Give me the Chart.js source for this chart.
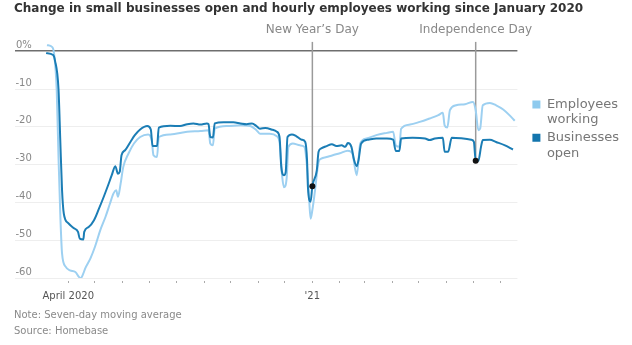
<!DOCTYPE html>
<html>
<head>
<meta charset="utf-8">
<script src="https://cdn.jsdelivr.net/npm/chart.js@4.4.1/dist/chart.umd.min.js"></script>
<style>
  html, body { margin: 0; padding: 0; background: #fff; }
  #wrap { width: 632px; height: 345px; }
</style>
</head>
<body>
<div id="wrap"><canvas id="chart"></canvas></div>
<script>
// Days are counted from April 1 2020 (day 0); values are % change since January 2020
const bizDays = [-25, -17, -15, -11, -9, -7, -5, 0, 6, 11, 13, 17, 18, 23, 29, 34, 40, 45, 49, 53, 56, 58, 60, 64, 70, 75, 81, 89, 93, 95, 100, 102, 115, 126, 134, 141, 149, 156, 158, 160, 163, 165, 175, 186, 194, 201, 207, 212, 216, 222, 229, 235, 238, 240, 243, 245, 247, 252, 257, 263, 267, 269, 270, 273, 275, 280, 282, 285, 291, 297, 302, 308, 312, 315, 319, 322, 325, 327, 330, 338, 347, 359, 366, 369, 373, 375, 388, 402, 407, 413, 422, 424, 428, 432, 445, 454, 457, 459, 462, 465, 467, 475, 482, 492, 501];
const bizValues = [-0.5, -1, -2.4, -10, -23.5, -36.8, -43, -45.5, -46.8, -47.8, -49.6, -49.8, -47.8, -46.5, -44.7, -42, -38.5, -35.4, -32.8, -30.4, -32.4, -31.9, -27.5, -26.2, -24, -22.2, -20.7, -19.8, -20.7, -25.1, -25.1, -20.2, -19.7, -19.8, -19.3, -19.1, -19.4, -19.1, -19.3, -22.7, -22.8, -19.1, -18.8, -18.8, -19.1, -19.3, -19.1, -19.8, -20.5, -20.3, -20.7, -21.3, -22.7, -30.6, -32.8, -31.9, -22.7, -22, -22.5, -23.4, -24, -28.8, -35.9, -39.8, -35.7, -31.5, -26.6, -25.7, -25.1, -24.6, -25.1, -24.9, -25.3, -24.3, -25.3, -28.8, -30.4, -28.8, -24.4, -23.4, -23.1, -23.1, -23.4, -26.4, -26.4, -23.1, -22.9, -23.1, -23.5, -23.1, -22.9, -26.6, -26.6, -22.9, -23.1, -23.4, -24, -29, -29, -25.3, -23.5, -23.4, -24, -24.9, -26];

const empDays = [-24, -18, -16, -13, -11, -9, -7, -3, 2, 8, 12, 14, 17, 19, 25, 30, 36, 42, 47, 51, 54, 56, 59, 62, 68, 74, 81, 90, 94, 96, 100, 102, 115, 134, 149, 158, 160, 163, 165, 179, 194, 205, 212, 216, 227, 235, 238, 241, 243, 246, 248, 253, 261, 266, 269, 271, 273, 275, 278, 282, 285, 291, 298, 306, 315, 320, 325, 329, 336, 347, 359, 366, 369, 373, 375, 385, 396, 407, 417, 422, 424, 427, 430, 437, 447, 456, 459, 462, 464, 467, 475, 482, 490, 497, 503];
const empValues = [1.6, 1.1, -0.6, -10.3, -28, -43, -53.5, -57, -58, -58.4, -59.7, -60.1, -58.8, -57.5, -54.8, -51.8, -47.4, -43.8, -40.3, -37.6, -36.8, -38.5, -35, -30.6, -27, -24.4, -22.7, -22, -23.5, -27.5, -28, -22.7, -22, -21.3, -21.1, -20.9, -24.4, -24.9, -20.5, -19.8, -19.6, -19.8, -20.9, -21.8, -21.8, -22.5, -24, -33.2, -36, -33.7, -25.3, -24.4, -24.9, -25.3, -30.6, -37.6, -44.3, -42, -36.8, -29.3, -28.4, -28, -27.5, -27, -26.3, -27, -32.8, -24.4, -23.1, -22.2, -21.6, -21.3, -24.9, -25.3, -20.5, -19.4, -18.7, -17.8, -16.9, -16.3, -19.6, -20.2, -15.6, -14.3, -14, -13.4, -15.6, -20.9, -20.5, -14.3, -13.7, -14.3, -15.4, -16.9, -18.4];

// month starts from April 2020 to August 2021
const monthTicks = [0, 30, 61, 91, 122, 153, 183, 214, 244, 275, 306, 334, 365, 395, 426, 456, 487];
const monthLabels = ['April 2020', '', '', '', '', '', '', '', '', "'21", '', '', '', '', '', '', ''];
const yTicks = [0, -10, -20, -30, -40, -50, -60];

const holidayDays = [275, 459];
const holidayLabels = ["New Year\u2019s Day", 'Independence Day'];

const legendText = [['Employees', 'working'], ['Businesses', 'open']];

Chart.defaults.font.family = "'DejaVu Sans', sans-serif";

const holidayPlugin = {
    id: 'holidays',
    beforeDatasetsDraw(chart) {
        const { ctx, chartArea } = chart;
        const x = chart.scales.x, y = chart.scales.y;
        ctx.save();
        ctx.strokeStyle = '#9a9a9a';
        ctx.lineWidth = 1.5;
        holidayDays.forEach(d => {
            const px = x.getPixelForValue(d);
            const py = y.getPixelForValue(bizValues[bizDays.indexOf(d)]);
            ctx.beginPath();
            ctx.moveTo(px, chartArea.top + 2);
            ctx.lineTo(px, py);
            ctx.stroke();
        });
        ctx.restore();
    },
    afterDatasetsDraw(chart) {
        const { ctx, chartArea } = chart;
        const x = chart.scales.x, y = chart.scales.y;
        ctx.save();
        holidayDays.forEach((d, i) => {
            const px = x.getPixelForValue(d);
            const py = y.getPixelForValue(bizValues[bizDays.indexOf(d)]);
            ctx.fillStyle = '#111';
            ctx.beginPath();
            ctx.arc(px, py, 3, 0, Math.PI * 2);
            ctx.fill();
            ctx.fillStyle = '#888';
            ctx.font = "12px 'DejaVu Sans', sans-serif";
            ctx.textAlign = 'center';
            ctx.textBaseline = 'middle';
            ctx.fillText(holidayLabels[i], px, chartArea.top - 10);
        });
        ctx.restore();
    }
};

new Chart(document.getElementById('chart'), {
    type: 'line',
    data: {
        datasets: [
            {
                label: 'Employees working',
                data: empDays.map((d, i) => ({ x: d, y: empValues[i] })),
                borderColor: '#9dd0f1',
                backgroundColor: '#8ecaee',
                borderWidth: 2,
                pointRadius: 0,
                cubicInterpolationMode: 'monotone',
                order: 1
            },
            {
                label: 'Businesses open',
                data: bizDays.map((d, i) => ({ x: d, y: bizValues[i] })),
                borderColor: '#1b7db5',
                backgroundColor: '#1375ad',
                borderWidth: 2,
                pointRadius: 0,
                cubicInterpolationMode: 'monotone',
                order: 0
            }
        ]
    },
    options: {
        responsive: true,
        maintainAspectRatio: false,
        animation: false,
        layout: { padding: { left: 14, right: 3, top: 0, bottom: 0 } },
        plugins: {
            title: {
                display: true,
                text: 'Change in small businesses open and hourly employees working since January 2020',
                align: 'start',
                color: '#333',
                font: { size: 12, weight: 'bold' },
                padding: { top: 2, bottom: 23.5 }
            },
            subtitle: {
                display: true,
                position: 'bottom',
                align: 'start',
                text: ['Note: Seven-day moving average', 'Source: Homebase'],
                color: '#8a8a8a',
                font: { size: 10, lineHeight: 1.6 },
                padding: { top: 0, bottom: 6 }
            },
            legend: {
                position: 'right',
                align: 'start',
                title: { display: true, text: '', font: { size: 10, lineHeight: 1 }, padding: { top: 86, bottom: 0 } },
                labels: {
                    boxWidth: 8,
                    boxHeight: 8,
                    padding: 2,
                    color: '#777',
                    font: { size: 13, lineHeight: 1.2 },
                    sort: (a, b) => a.datasetIndex - b.datasetIndex,
                    generateLabels(chart) {
                        const items = Chart.defaults.plugins.legend.labels.generateLabels(chart);
                        items.forEach(it => {
                            it.text = legendText[it.datasetIndex];
                            it.lineWidth = 0;
                            it.strokeStyle = 'rgba(0,0,0,0)';
                        });
                        return items;
                    }
                }
            },
            tooltip: { enabled: false }
        },
        scales: {
            x: {
                type: 'linear',
                min: -60,
                max: 506,
                afterBuildTicks: scale => { scale.ticks = monthTicks.map(v => ({ value: v })); },
                ticks: {
                    autoSkip: false,
                    maxRotation: 0,
                    padding: 5,
                    color: '#555',
                    font: { size: 10 },
                    callback: (v, i) => monthLabels[i]
                },
                grid: {
                    drawOnChartArea: false,
                    tickLength: 7,
                    tickColor: '#aaa',
                    tickBorderDash: [0, 3, 2, 20]
                },
                border: { display: false }
            },
            y: {
                min: -60,
                max: 3,
                afterBuildTicks: scale => { scale.ticks = yTicks.map(v => ({ value: v })); },
                ticks: {
                    mirror: true,
                    crossAlign: 'far',
                    padding: 0.5,
                    labelOffset: -6,
                    color: '#888',
                    font: { size: 10 },
                    callback: v => (v === 0 ? '0%' : String(v))
                },
                grid: {
                    drawTicks: false,
                    color: ctx => (ctx.tick && ctx.tick.value === 0 ? '#6e6e6e' : '#eeeeee'),
                    lineWidth: ctx => (ctx.tick && ctx.tick.value === 0 ? 1.5 : 1)
                },
                border: { display: false }
            },
            // empty spacer between the plot and the legend
            gap: {
                type: 'linear',
                axis: 'y',
                position: 'right',
                grid: { display: false },
                ticks: { display: false },
                border: { display: false },
                afterFit: scale => { scale.width = 13; }
            }
        }
    },
    plugins: [holidayPlugin]
});
</script>
</body>
</html>
